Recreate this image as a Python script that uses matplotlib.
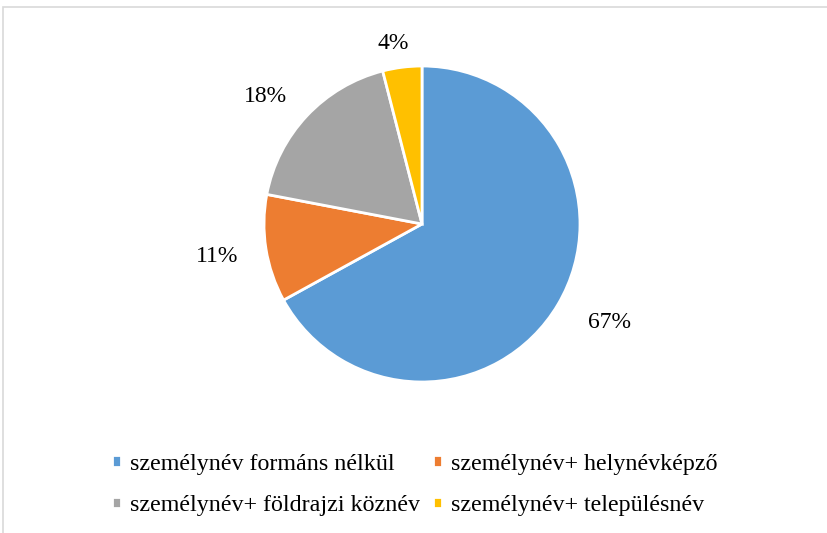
import matplotlib
matplotlib.use("Agg")
import numpy as np
import matplotlib.pyplot as plt
from matplotlib.patches import Rectangle

plt.rcParams["font.family"] = ["Liberation Serif", "DejaVu Serif"]

categories = [
    "személynév formáns nélkül",
    "személynév+ helynévképző",
    "személynév+ földrajzi köznév",
    "személynév+ településnév",
]
shares = [67, 11, 18, 4]
colors = ["#5B9BD5", "#ED7D31", "#A5A5A5", "#FFC000"]
# placement of each percentage label: distance (radii) and angle shift (deg)
label_dist = [1.34, 1.31, 1.28, 1.16]
label_shift = [3, 0, 4, 2]

W, H = 828, 533
fig = plt.figure(figsize=(W / 100, H / 100), dpi=100)

# chart frame (cropped on right and bottom)
fig.patches.append(Rectangle((3 / W, -0.1), 1.2, (H - 7) / H + 0.1,
                             transform=fig.transFigure, fill=False,
                             edgecolor="#D9D9D9", linewidth=1.2))

ax = fig.add_axes([264 / W, (H - 382) / H, 316 / W, 316 / H])
wedges, texts, autotexts = ax.pie(
    shares, colors=colors, startangle=90, counterclock=False,
    autopct="%1.0f%%", pctdistance=1.3,
    wedgeprops=dict(edgecolor="white", linewidth=2),
    textprops=dict(fontsize=17, color="#000000"),
)
for w, t, d, s in zip(wedges, autotexts, label_dist, label_shift):
    ang = np.deg2rad((w.theta1 + w.theta2) / 2 + s)
    t.set_position((d * np.cos(ang), d * np.sin(ang)))
ax.set_xlim(-1, 1)
ax.set_ylim(-1, 1)

order = [0, 2, 1, 3]
fig.legend([wedges[i] for i in order], [categories[i] for i in order],
           ncol=2, loc="center", bbox_to_anchor=(415 / W, 1 - 485 / H),
           frameon=False, fontsize=17.3, handlelength=0.35, handleheight=0.35,
           handletextpad=0.4, columnspacing=0.55, labelspacing=0.85)

fig.savefig("out.png", dpi=100)
